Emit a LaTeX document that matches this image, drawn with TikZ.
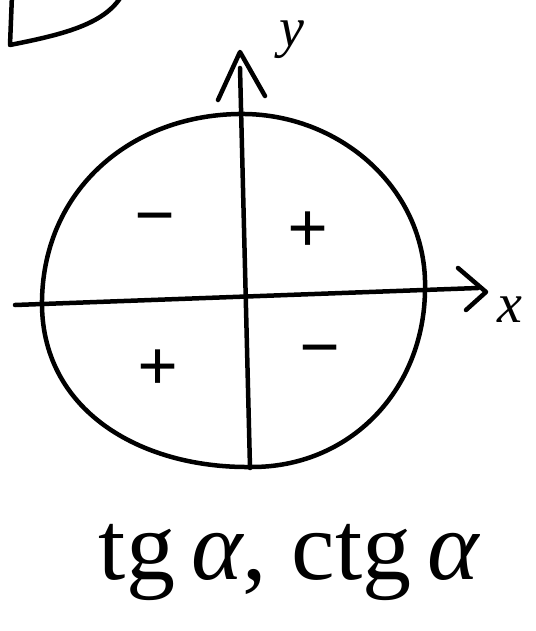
\documentclass[tikz,border=0pt]{standalone}
\usepackage{fontspec}
\setmainfont{Liberation Serif}
\begin{document}
\begin{tikzpicture}[x=1pt,y=-1pt,
  ink/.style={line width=4.5pt,line cap=round,line join=round,black},
  sign/.style={font=\fontsize{72}{76}\selectfont\bfseries,inner sep=0pt},
  lbl/.style={font=\fontsize{56}{60}\selectfont\itshape,inner sep=0pt}]
\useasboundingbox[fill=white] (0,0) rectangle (535,631);
% partial shape top-left
\draw[ink] (12,-5) -- (10,45) .. controls (60,35) and (105,25) .. (122,-5);
% circle (hand drawn)
\draw[ink] (238,114) .. controls (340,112) and (428,190) .. (425,290)
  .. controls (424,390) and (350,468) .. (250,467)
  .. controls (140,468) and (40,410) .. (42,300)
  .. controls (44,190) and (130,116) .. (238,114);
% axes
\coordinate (ytop) at (240,68);
\coordinate (ybot) at (250,468);
\coordinate (xl) at (15,305);
\coordinate (xr) at (478,288);
\draw[ink] (ybot) -- (ytop);
\draw[ink] (xl) -- (xr);
% arrowheads
\draw[ink] (218,100) -- (240,52) -- (265,96);
\draw[ink] (458,268) -- (486,292) -- (466,310);
% labels
\node[lbl] (ylab) at (292,40) {y};
\node[lbl] (xlab) at (510,310) {x};
\node[sign] (q2) at (155,226) {−};
\node[sign] (q1) at (308,232) {+};
\node[sign] (q3) at (158,370) {+};
\node[sign] (q4) at (320,358) {−};
\node[font=\fontsize{98}{104}\selectfont,inner sep=0pt] (fn) at (290,562) {tg\,\textit{α}, ctg\,\textit{α}};
\end{tikzpicture}
\end{document}
